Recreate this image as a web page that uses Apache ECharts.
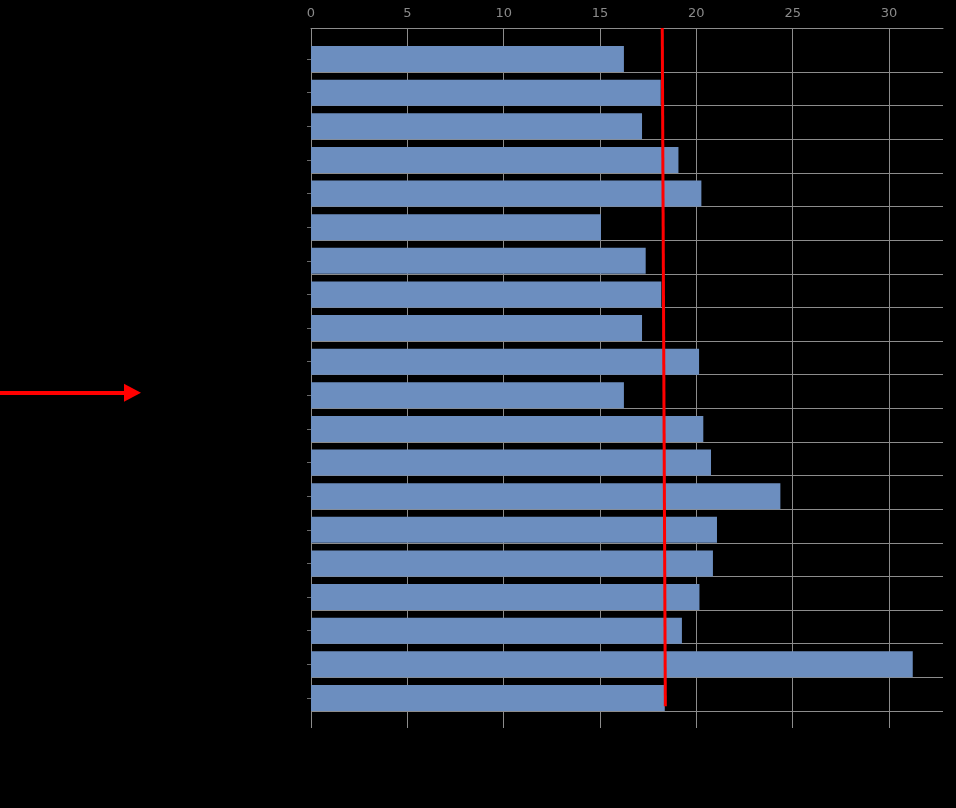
<!DOCTYPE html>
<html>
<head>
<meta charset="utf-8">
<title>bars</title>
<script src="https://cdn.jsdelivr.net/npm/echarts@6/dist/echarts.min.js"></script>
<style>
    html, body { margin: 0; padding: 0; background: #000; }
    #chart { width: 956px; height: 808px; }
</style>
</head>
<body>
<div id="chart"></div>
<script>
// categories (labels are not visible in the picture)
var categories = ['1', '2', '3', '4', '5', '6', '7', '8', '9', '10',
    '11', '12', '13', '14', '15', '16', '17', '18', '19', '20'];

// bar values, top to bottom
var values = [16.24, 18.15, 17.18, 19.07, 20.26, 15.05, 17.37, 18.18, 17.18, 20.14,
    16.24, 20.36, 20.76, 24.36, 21.07, 20.86, 20.16, 19.25, 31.23, 18.36];

// x axis ticks
var xMin = 0;
var xMax = 32.8;
var xStep = 5;

// red reference line: x values at top and bottom, y in frame units (0 top .. 100 bottom)
var refX = [18.23, 18.39];
var refY = [0, 96.9];

// red arrow on the left, in its own small frame (x 0..10, y 0..100)
var arrowX = [0, 8.28];
var arrowY = 52.1;

var chart = {

    grey: '#8c8c8c',
    barColor: '#6c8ebf',

    hiddenX: function (idx, min, max) {
        return { type: 'value', gridIndex: idx, min: min, max: max, show: false };
    },

    option: function () {
        var refData = [];
        for (var i = 0; i < refX.length; i++) {
            refData.push([refX[i], refY[i]]);
        }

        return {
            backgroundColor: '#000',
            animation: false,
            grid: [
                // frame: top axis + vertical lines
                { left: 311, width: 632, top: 28, bottom: 80 },
                // horizontal separators
                { left: 311, width: 632, top: 38.4, bottom: 97 },
                // bars
                { left: 311, width: 632, top: 42.2, bottom: 93.2 },
                // arrow area on the left
                { left: 0, width: 160, top: 28, bottom: 80 }
            ],
            xAxis: [
                {
                    type: 'value',
                    gridIndex: 0,
                    position: 'top',
                    min: xMin,
                    max: xMax,
                    interval: xStep,
                    axisLine: { show: true, lineStyle: { color: chart.grey, width: 1 } },
                    axisTick: { show: false },
                    axisLabel: {
                        color: '#8a8a8a',
                        fontFamily: 'DejaVu Sans',
                        fontSize: 13,
                        margin: 8,
                        showMaxLabel: false
                    },
                    splitLine: {
                        show: true,
                        showMaxLine: false,
                        lineStyle: { color: chart.grey, width: 1 }
                    }
                },
                chart.hiddenX(1, xMin, xMax),
                chart.hiddenX(2, xMin, xMax),
                chart.hiddenX(3, 0, 10)
            ],
            yAxis: [
                { type: 'value', gridIndex: 0, min: 0, max: 100, inverse: true, show: false },
                {
                    type: 'category',
                    gridIndex: 1,
                    inverse: true,
                    data: categories,
                    axisLine: { show: false },
                    axisTick: { show: false },
                    axisLabel: { show: false },
                    splitLine: {
                        show: true,
                        showMinLine: false,
                        lineStyle: { color: chart.grey, width: 1 }
                    }
                },
                {
                    type: 'category',
                    gridIndex: 2,
                    inverse: true,
                    data: categories,
                    axisLine: { show: false },
                    axisTick: {
                        show: true,
                        alignWithLabel: true,
                        length: 4,
                        lineStyle: { color: '#6a6a6a' }
                    },
                    axisLabel: { show: false },
                    splitLine: { show: false }
                },
                { type: 'value', gridIndex: 3, min: 0, max: 100, inverse: true, show: false }
            ],
            series: [
                {
                    name: 'values',
                    type: 'bar',
                    xAxisIndex: 2,
                    yAxisIndex: 2,
                    barWidth: 26,
                    itemStyle: { color: chart.barColor },
                    data: values
                },
                {
                    name: 'reference',
                    type: 'line',
                    xAxisIndex: 0,
                    yAxisIndex: 0,
                    symbol: 'none',
                    lineStyle: { color: '#ff0000', width: 3 },
                    data: refData
                },
                {
                    name: 'arrow',
                    type: 'line',
                    xAxisIndex: 3,
                    yAxisIndex: 3,
                    symbol: 'none',
                    lineStyle: { opacity: 0 },
                    data: [[arrowX[0], arrowY]],
                    markLine: {
                        silent: true,
                        animation: false,
                        symbol: ['none', 'triangle'],
                        symbolSize: [18, 17],
                        label: { show: false },
                        lineStyle: { color: '#ff0000', width: 4, type: 'solid' },
                        data: [
                            [
                                { coord: [arrowX[0], arrowY] },
                                { coord: [arrowX[1], arrowY] }
                            ]
                        ]
                    }
                }
            ]
        };
    }
};

var myChart = echarts.init(document.getElementById('chart'));
myChart.setOption(chart.option());
</script>
</body>
</html>
